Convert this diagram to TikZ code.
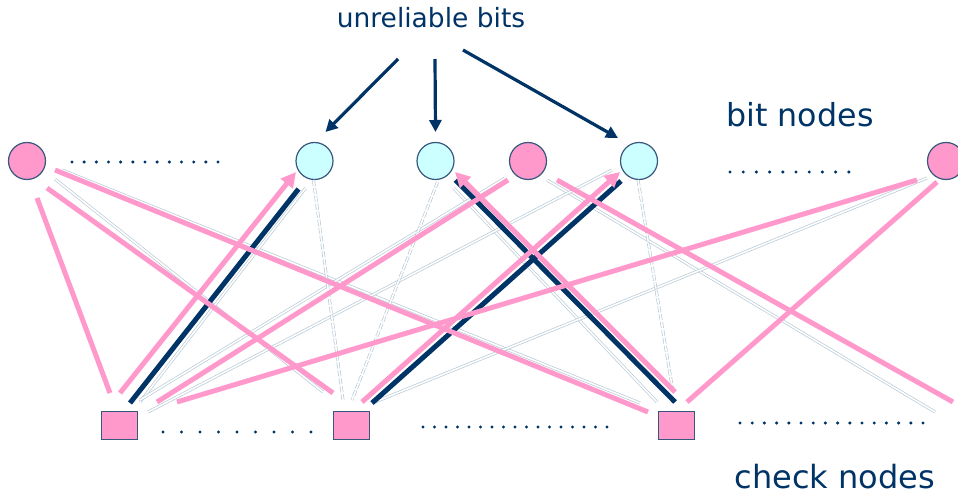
\documentclass[tikz,border=0pt]{standalone}
\usepackage{fontspec}
\setmainfont{DejaVu Sans}
\usetikzlibrary{arrows.meta,calc}

\definecolor{pinkc}{RGB}{255,153,204}
\definecolor{navyc}{RGB}{0,51,102}
\definecolor{cyanc}{RGB}{204,255,255}
\definecolor{ringc}{RGB}{56,87,125}
\definecolor{lightc}{RGB}{185,202,214}

\begin{document}
\begin{tikzpicture}[x=1pt,y=-1pt,
  bitnode/.style={circle,draw=ringc,line width=1.2pt,minimum size=37pt,inner sep=0pt},
  pinkbit/.style={bitnode,fill=pinkc},
  cyanbit/.style={bitnode,fill=cyanc},
  checknode/.style={rectangle,draw=ringc,line width=1.2pt,fill=pinkc,
    minimum width=36pt,minimum height=28pt,inner sep=0pt},
  pinkedge/.style={draw=pinkc,line width=5pt},
  navyedge/.style={draw=navyc,line width=5pt},
  pinkarrow/.style={pinkedge,-{Triangle[length=15pt,width=15pt]}},
  softedge/.style={draw=lightc,line width=0.7pt,double=white,double distance=1.6pt},
  dashedge/.style={softedge,dash pattern=on 6pt off 2pt},
  labelarrow/.style={draw=navyc,line width=3.2pt,-{Triangle[length=12pt,width=12pt]}},
  caption/.style={text=navyc,anchor=base,inner sep=0pt},
  dotrow/.style={fill=navyc}
]
\useasboundingbox (0,0) rectangle (958,497);

% bit nodes (top row) and check node positions (bottom row)
\node[pinkbit] (b1) at (27,161) {};
\node[cyanbit] (b2) at (314.5,161) {};
\node[cyanbit] (b3) at (435.5,161) {};
\node[pinkbit] (b4) at (528,161) {};
\node[cyanbit] (b5) at (639,161) {};
\node[pinkbit] (b6) at (946,161) {};
\coordinate (c1) at (119.5,425.5);
\coordinate (c2) at (351.5,425.5);
\coordinate (c3) at (676.5,425.5);
\coordinate (cr) at (950,425);

% reliable connections: pale double lines
\draw[softedge] ($(b1)+(28,18)$) -- ($(c2)+(-28.5,-33.5)$);
\draw[softedge] ($(b1)+(35,9)$) -- ($(c3)+(-36.5,-22.5)$);
\draw[softedge] ($(b2)+(-9,27)$) -- ($(c1)+(20.5,-23.5)$);
\draw[softedge] ($(b3)+(18,27)$) -- ($(c3)+(-19.5,-23.5)$);
\draw[softedge] ($(b4)+(19,19)$) -- ($(cr)+(-15,-13)$);
\draw[softedge] ($(b4)+(-23,17)$) -- ($(c1)+(20.5,-25.5)$);
\draw[softedge] ($(b5)+(-27,9)$) -- ($(c1)+(28.5,-13.5)$);
\draw[softedge] ($(b6)+(-19,17)$) -- ($(c2)+(23.5,-23.5)$);
\draw[dashedge] ($(b2)+(-1,19)$) -- ($(c2)+(-8.5,-25.5)$);
\draw[dashedge] ($(b3)+(2,21)$) -- ($(c2)+(0.5,-25.5)$);
\draw[dashedge] ($(b5)+(-1,19)$) -- ($(c3)+(-3.5,-33.5)$);

% messages from the unreliable bits
\draw[navyedge] ($(c1)+(10.5,-22.5)$) -- ($(b2)+(-16,28)$);
\draw[navyedge] ($(c3)+(-1.5,-23.5)$) -- ($(b3)+(20,19)$);
\draw[navyedge] ($(c2)+(20.5,-22.5)$) -- ($(b5)+(-18,20)$);

% pink connections
\draw[pinkedge] ($(b1)+(10,37)$) -- ($(c1)+(-9.5,-32.5)$);
\draw[pinkedge] ($(b1)+(20,27)$) -- ($(c2)+(-18.5,-32.5)$);
\draw[pinkedge] ($(b1)+(28,9)$) -- ($(c3)+(-28.5,-13.5)$);
\draw[pinkedge] ($(b4)+(-20,19)$) -- ($(c1)+(37.5,-23.5)$);
\draw[pinkedge] ($(b4)+(29,19)$) -- ($(cr)+(3,-23)$);
\draw[pinkedge] ($(b6)+(-29,19)$) -- ($(c1)+(57.5,-23.5)$);
\draw[pinkedge] ($(b6)+(-9,21)$) -- ($(c3)+(10.5,-23.5)$);

% pink arrows into the unreliable bits
\draw[pinkarrow] ($(c1)+(0.5,-32.5)$) -- ($(b2)+(-18.5,11)$);
\draw[pinkarrow] ($(c3)+(-1.5,-33.5)$) -- ($(b3)+(19.5,11)$);
\draw[pinkarrow] ($(c2)+(10.5,-23.5)$) -- ($(b5)+(-19,11)$);

% check nodes
\node[checknode] (cn1) at (c1) {};
\node[checknode] (cn2) at (c2) {};
\node[checknode] (cn3) at (c3) {};

% ellipsis dots
\foreach \i in {0,...,12} \fill[dotrow] (72+\i*12.17,162) circle (1.7pt);
\foreach \i in {0,...,9}  \fill[dotrow] (730+\i*13.2,172) circle (1.7pt);
\foreach \i in {0,...,8}  \fill[dotrow] (163+\i*18.5,432) circle (1.7pt);
\foreach \i in {0,...,16} \fill[dotrow] (423+\i*11.5,427) circle (1.7pt);
\foreach \i in {0,...,15} \fill[dotrow] (740+\i*12.2,423) circle (1.7pt);

% captions
\node[caption,font=\fontsize{26.5}{30}\selectfont] (ub) at (431,28) {unreliable bits};
\node[caption,font=\fontsize{31.7}{36}\selectfont] (bn) at (800,127) {bit nodes};
\node[caption,font=\fontsize{32}{36}\selectfont] (cn) at (835,488) {check nodes};

% arrows from the caption to the unreliable bits
\draw[labelarrow] ($(ub.base)+(-33,31)$) -- ($(b2)+(11,-29)$);
\draw[labelarrow] ($(ub.base)+(4,31)$) -- ($(b3)+(0,-29)$);
\draw[labelarrow] ($(ub.base)+(32,22)$) -- ($(b5)+(-21,-23)$);
\end{tikzpicture}
\end{document}
